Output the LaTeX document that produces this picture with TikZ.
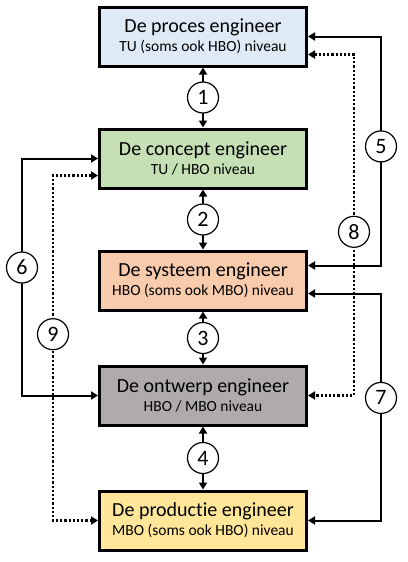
\documentclass[tikz,border=0pt]{standalone}
\usepackage{fontspec}
\setmainfont{Carlito}[Ligatures=NoCommon]
\usetikzlibrary{positioning, arrows.meta}

\definecolor{procesblauw}{HTML}{DEEBF7}
\definecolor{conceptgroen}{HTML}{C5E0B4}
\definecolor{systeemoranje}{HTML}{F8CBAD}
\definecolor{ontwerpgrijs}{HTML}{AFABAB}
\definecolor{productiegeel}{HTML}{FFE699}

\newcommand{\niveau}[1]{\\[-2pt]{\fontsize{15.5}{16}\selectfont #1}}

\tikzset{
    engbox/.style={draw, line width=3pt, minimum width=207pt, minimum height=59pt,
        align=center, font=\fontsize{20}{21}\selectfont},
    nummer/.style={circle, draw, solid, fill=white, line width=1.2pt, minimum size=31pt,
        inner sep=0pt, font=\fontsize{22}{22}\selectfont},
    lijn/.style={line width=2pt},
    stippel/.style={line width=2.2pt, dash pattern=on 2.2pt off 2pt},
}

\begin{document}
\begin{tikzpicture}[x=1pt, y=-1pt, >={Triangle[length=7pt,width=8pt]}]
\useasboundingbox (0,0) rectangle (407,562);

\node[engbox, fill=procesblauw] (b1) at (203,36.5) {De proces engineer\niveau{TU (soms ook HBO) niveau}};
\node[engbox, fill=conceptgroen, below=60pt of b1] (b2) {De concept engineer\niveau{TU / HBO niveau}};
\node[engbox, fill=systeemoranje, below=60pt of b2] (b3) {De systeem engineer\niveau{HBO (soms ook MBO) niveau}};
\node[engbox, fill=ontwerpgrijs, below=53pt of b3] (b4) {De ontwerp engineer\niveau{HBO / MBO niveau}};
\node[engbox, fill=productiegeel, below=63pt of b4] (b5) {De productie engineer\niveau{MBO (soms ook HBO) niveau}};

% tussen de lagen
\foreach \a/\b/\n in {b1/b2/1, b2/b3/2, b3/b4/3, b4/b5/4}
{
    \draw[lijn, <->] (\a) -- node[nummer]{\n} (\b);
}

% rechts
\draw[lijn, <->] (b1.east) -| node[nummer, pos=.74]{5} ([xshift=73pt, yshift=15pt]b3.east) -- ([yshift=15pt]b3.east);
\draw[lijn, <->] ([yshift=-13pt]b3.east) -| node[nummer, pos=.73]{7} ([xshift=73pt]b5.east) -- (b5.east);
\draw[stippel, <->] ([yshift=-18pt]b1.east) -| node[nummer, pos=.76]{8} ([xshift=46pt]b4.east) -- (b4.east);

% links
\draw[lijn, <->] (b2.west) -| node[nummer, pos=.73]{6} ([xshift=-76pt]b4.west) -- (b4.west);
\draw[stippel, <->] ([yshift=-17pt]b2.west) -| node[nummer, pos=.73]{9} ([xshift=-45pt]b5.west) -- (b5.west);

\end{tikzpicture}
\end{document}
